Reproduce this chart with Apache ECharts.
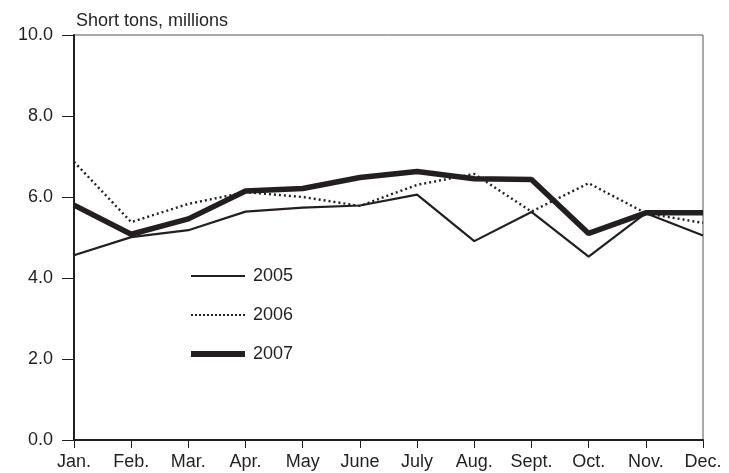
<!DOCTYPE html>
<html>
<head>
<meta charset="utf-8">
<script src="https://cdn.jsdelivr.net/npm/echarts@6/dist/echarts.min.js"></script>
<style>
html,body{margin:0;padding:0;background:#fff;}
#main{width:729px;height:473px;}
</style>
</head>
<body>
<div id="main"></div>
<script>
var months = ['Jan.', 'Feb.', 'Mar.', 'Apr.', 'May', 'June', 'July', 'Aug.', 'Sept.', 'Oct.', 'Nov.', 'Dec.'];
var s2005 = [4.56, 5.01, 5.18, 5.64, 5.74, 5.79, 6.06, 4.91, 5.63, 4.53, 5.60, 5.05];
var s2006 = [6.87, 5.38, 5.83, 6.12, 6.00, 5.78, 6.30, 6.57, 5.64, 6.34, 5.60, 5.36];
var s2007 = [5.80, 5.08, 5.46, 6.15, 6.21, 6.48, 6.63, 6.45, 6.43, 5.10, 5.61, 5.61];
var yTicks = [0, 2, 4, 6, 8, 10];
var titleText = 'Short tons, millions';

var ink = '#231f20';
var font = '"Liberation Sans", Arial, sans-serif';
var chart = echarts.init(document.getElementById('main'));
chart.setOption({
  animation: false,
  backgroundColor: '#fff',
  title: {
    text: titleText,
    left: 71,
    top: 7,
    textStyle: {fontFamily: font, fontSize: 18, fontWeight: 'normal', color: ink}
  },
  grid: {
    left: 74, right: 26, top: 35, bottom: 33,
    show: true, borderColor: '#555', borderWidth: 1, backgroundColor: 'transparent'
  },
  legend: {
    orient: 'vertical',
    left: 183,
    top: 262,
    itemWidth: 54,
    itemHeight: 18,
    itemGap: 21,
    itemStyle: {opacity: 0},
    textStyle: {fontFamily: font, fontSize: 18, color: ink, padding: [0, 0, 0, 3]},
    data: [
      {name: '2005', lineStyle: {width: 2.2, type: 'solid'}},
      {name: '2006', lineStyle: {width: 2.2, type: [2, 2]}},
      {name: '2007', lineStyle: {width: 6, type: 'solid'}}
    ]
  },
  xAxis: {
    type: 'category',
    data: months,
    boundaryGap: false,
    axisLine: {lineStyle: {color: ink, width: 2}},
    axisTick: {show: true, length: 8, lineStyle: {color: ink, width: 1}},
    axisLabel: {fontFamily: font, fontSize: 18, color: ink, margin: 13, interval: 0},
    splitLine: {show: false}
  },
  yAxis: {
    type: 'value',
    min: yTicks[0],
    max: yTicks[yTicks.length - 1],
    interval: 2,
    axisLine: {show: true, lineStyle: {color: ink, width: 2}},
    axisTick: {show: true, length: 12, lineStyle: {color: ink, width: 1}},
    axisLabel: {fontFamily: font, fontSize: 18, color: ink, margin: 21,
      formatter: function (v) { return v.toFixed(1); }},
    splitLine: {show: false}
  },
  series: [
    {name: '2005', type: 'line', data: s2005, symbol: 'none', lineStyle: {color: ink, width: 2.2}, itemStyle: {color: ink}, z: 3},
    {name: '2006', type: 'line', data: s2006, symbol: 'none', lineStyle: {color: ink, width: 2.4, type: [2, 3]}, itemStyle: {color: ink}, z: 2},
    {name: '2007', type: 'line', data: s2007, symbol: 'none', lineStyle: {color: ink, width: 5.5}, itemStyle: {color: ink}, z: 4}
  ]
});
</script>
</body>
</html>
